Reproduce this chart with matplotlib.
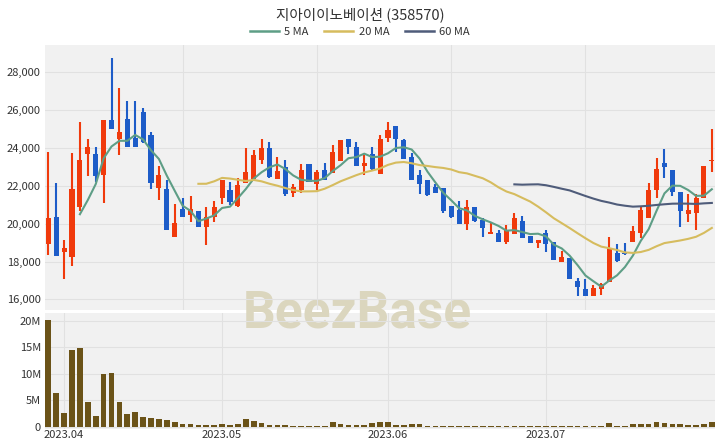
import numpy as np
import pandas as pd
import matplotlib
matplotlib.use('Agg')
import matplotlib.pyplot as plt
from matplotlib.patches import Rectangle
from matplotlib.lines import Line2D
from matplotlib.ticker import FuncFormatter

plt.rcParams['font.family'] = ['Noto Sans CJK KR', 'DejaVu Sans']

# ------------------------------------------------------------
# data
# ------------------------------------------------------------
TITLE = '지아이이노베이션 (358570)'

OPEN = [18950, 20350, 18500, 18250, 20900, 23700, 23700, 22550, 25500, 24450,
        25550, 24550, 25900, 24700, 21900, 21850, 19300, 20800, 20450, 20650,
        19800, 20350, 21350, 21800, 20950, 22150, 22350, 23350, 24000, 22350,
        23000, 21600, 21800, 23150, 22100, 22850, 22700, 23300, 24450, 24050,
        23050, 23700, 22650, 24550, 25150, 24400, 23500, 22550, 22300, 21950,
        21900, 20950, 20700, 20000, 20900, 20200, 19450, 19500, 19050, 19450,
        20150, 19350, 19000, 19500, 19050, 18000, 18200, 16950, 16550, 16200,
        16550, 16900, 18450, 18450, 19050, 19500, 20300, 21800, 23200, 22850,
        21700, 20500, 20550, 21350, 23300]
HIGH = [23800, 22150, 19150, 23750, 25400, 24500, 24050, 25500, 28750, 27150,
        26500, 26500, 26100, 24850, 23050, 22300, 21050, 21350, 21450, 20650,
        20900, 21200, 22300, 22200, 22400, 24000, 23900, 24500, 24300, 23500,
        23350, 22100, 23150, 23150, 22850, 23200, 24150, 24400, 24450, 24300,
        23650, 24050, 24700, 25350, 25150, 24500, 23750, 22850, 22300, 22100,
        21900, 20950, 21200, 21250, 20900, 20300, 20100, 19650, 19950, 20550,
        20400, 19350, 19150, 19650, 19050, 18550, 18200, 17150, 17100, 16750,
        16850, 19300, 18900, 19000, 19900, 20950, 22150, 23450, 23950, 22850,
        21700, 21550, 21550, 23050, 25000]
LOW = [18350, 18300, 17050, 17750, 20650, 22500, 22200, 21100, 25000, 23650,
       24050, 24050, 24250, 21850, 21250, 19650, 19300, 20350, 20100, 19800,
       18850, 20100, 21050, 21000, 20900, 22150, 22300, 23150, 22400, 22350,
       21450, 21400, 21600, 22200, 21800, 22300, 22700, 23300, 23700, 23050,
       22550, 22850, 22650, 24300, 23800, 23400, 22300, 21550, 21450, 21600,
       20550, 20300, 20000, 19650, 20100, 19300, 19450, 19050, 18950, 19450,
       19250, 19000, 18700, 18500, 18100, 18000, 17100, 16200, 16200, 16200,
       16250, 16900, 18000, 18350, 19050, 19250, 20300, 21350, 22400, 21450,
       19850, 20100, 19650, 21350, 22750]
CLOSE = [20300, 18300, 18700, 21850, 23350, 24050, 22500, 25500, 25000, 24850,
         24050, 24050, 24300, 22150, 22550, 19650, 20050, 20350, 20800, 19800,
         20350, 20900, 22300, 21150, 22050, 22750, 23650, 24000, 22450, 22800,
         21550, 21950, 22850, 22200, 22750, 22300, 23800, 24400, 24050, 23050,
         23200, 22900, 24500, 24950, 24450, 23400, 22300, 22100, 21500, 21600,
         20650, 20350, 20000, 20900, 20150, 19750, 19550, 19050, 19650, 20300,
         19250, 19000, 19150, 18950, 18100, 18250, 17100, 16650, 16200, 16600,
         16800, 18700, 18050, 18400, 19600, 20700, 21800, 22900, 23000, 21650,
         20650, 20700, 21350, 23050, 23350]
# volume in millions of shares
VOLUME_M = [20.1, 6.3, 2.6, 14.5, 14.9, 4.7, 2.1, 9.9, 10.2, 4.7,
            2.4, 2.8, 1.8, 1.6, 1.5, 1.3, 0.95, 0.55, 0.5, 0.3,
            0.3, 0.35, 0.6, 0.25, 0.5, 1.4, 1.1, 0.7, 0.4, 0.3,
            0.3, 0.2, 0.2, 0.15, 0.15, 0.2, 0.9, 0.5, 0.3, 0.3,
            0.25, 0.65, 0.95, 0.8, 0.4, 0.3, 0.45, 0.6, 0.2, 0.15,
            0.15, 0.15, 0.12, 0.12, 0.2, 0.15, 0.12, 0.12, 0.15, 0.15,
            0.12, 0.1, 0.1, 0.15, 0.12, 0.1, 0.1, 0.12, 0.15, 0.12,
            0.1, 0.7, 0.15, 0.15, 0.5, 0.5, 0.5, 0.8, 0.65, 0.5,
            0.5, 0.25, 0.25, 0.5, 0.85]

MONTH_TICKS = [2, 22, 43, 63]
MONTH_LABELS = ['2023.04', '2023.05', '2023.06', '2023.07']
PRICE_GRID_X = [17, 34, 51, 68]
PRICE_TICKS = [16000, 18000, 20000, 22000, 24000, 26000, 28000]
VOL_TICKS = [0, 5, 10, 15, 20]

UP = '#f03a0c'
DOWN = '#1d5cc8'
MA_COLORS = {5: '#5e9e86', 20: '#d6bc5e', 60: '#4f5c7a'}
VOL_COLOR = '#6b5318'
BG = '#f1f1f1'
GRID = '#e1e1e1'
TXT = '#333333'

# ------------------------------------------------------------
# layout
# ------------------------------------------------------------
W, H = 720, 448
fig = plt.figure(figsize=(W / 100, H / 100), dpi=100)


def box(l, t, r, b):
    return [l / W, 1 - b / H, (r - l) / W, (b - t) / H]


price_box = box(45, 45, 715, 310)
vol_box = box(45, 313, 715, 429)
for bx in (price_box, vol_box):
    fig.patches.append(Rectangle((bx[0], bx[1]), bx[2], bx[3], transform=fig.transFigure,
                                 facecolor=BG, edgecolor='none', zorder=0))

fig.text(357 / W, 1 - 328 / H, 'BeezBase', family=['Roboto', 'DejaVu Sans'], fontweight='bold',
         fontsize=37, color='#dbd6be', ha='center', va='baseline', zorder=1)

ax = fig.add_axes(price_box)
axv = fig.add_axes(vol_box)
for a in (ax, axv):
    a.set_zorder(2)
    a.set_facecolor('none')
    for s in a.spines.values():
        s.set_visible(False)
    a.tick_params(length=0, labelsize=8, labelcolor=TXT, pad=3)
    a.set_xlim(-0.42, 84.4)
    a.set_axisbelow(True)

# ------------------------------------------------------------
# candles + moving averages
# ------------------------------------------------------------
x = np.arange(len(CLOSE))
o = np.array(OPEN)
hi = np.array(HIGH)
lo = np.array(LOW)
c = np.array(CLOSE)
col = np.where(c >= o, UP, DOWN)

ax.vlines(x, lo, hi, colors=col, linewidth=1.5, zorder=3)
ax.bar(x, np.maximum(np.abs(c - o), 70), 0.64, bottom=np.minimum(o, c), color=col, zorder=3)

close_s = pd.Series(c, dtype=float)
for n in (5, 20, 60):
    ax.plot(x, close_s.rolling(n).mean(), color=MA_COLORS[n], linewidth=1.5, zorder=4,
            solid_joinstyle='round')

ax.set_ylim(15438, 29443)
ax.set_yticks(PRICE_TICKS)
ax.yaxis.set_major_formatter(FuncFormatter(lambda v, p: f'{int(v):,}'))
ax.set_xticks(PRICE_GRID_X)
ax.tick_params(axis='x', labelbottom=False)
ax.grid(True, color=GRID, linewidth=0.8)

# ------------------------------------------------------------
# volume
# ------------------------------------------------------------
axv.bar(x, VOLUME_M, 0.72, color=VOL_COLOR, zorder=3)
axv.set_ylim(-0.43, 21.45)
axv.set_yticks(VOL_TICKS)
axv.set_yticklabels(['0' if v == 0 else f'{v}M' for v in VOL_TICKS])
axv.set_xticks(MONTH_TICKS)
axv.set_xticklabels(MONTH_LABELS)
axv.tick_params(axis='x', pad=1)
axv.grid(True, color=GRID, linewidth=0.8)

# ------------------------------------------------------------
# title + legend
# ------------------------------------------------------------
fig.text(0.5, 1 - 15 / H, TITLE, ha='center', va='center', fontsize=10.5, color=TXT)
handles = [Line2D([], [], color=MA_COLORS[n], linewidth=1.8) for n in (5, 20, 60)]
fig.legend(handles, ['5 MA', '20 MA', '60 MA'], loc='center', bbox_to_anchor=(0.5, 1 - 32 / H),
           ncol=3, frameon=False, fontsize=8, handlelength=2.6, handletextpad=0.5,
           columnspacing=1.4, labelcolor=TXT)

fig.savefig('out.png', dpi=100)
